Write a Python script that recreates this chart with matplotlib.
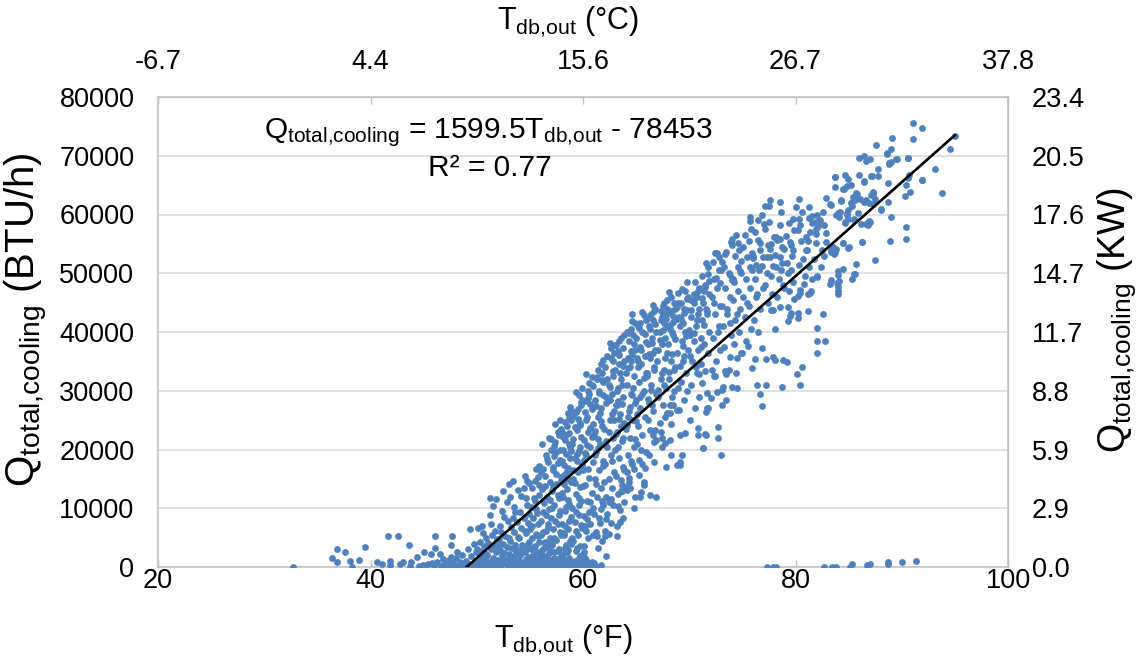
import numpy as np
import matplotlib
matplotlib.use("Agg")
import matplotlib.pyplot as plt
from matplotlib.ticker import FormatStrFormatter

plt.rcParams['font.family'] = ['Liberation Sans', 'DejaVu Sans']
plt.rcParams['mathtext.fontset'] = 'custom'
plt.rcParams['mathtext.rm'] = 'Liberation Sans'
plt.rcParams['mathtext.it'] = 'Liberation Sans:italic'
plt.rcParams['mathtext.bf'] = 'Liberation Sans:bold'
plt.rcParams['axes.unicode_minus'] = False

# ---- measured hourly data: (outdoor dry-bulb °F, total cooling load in kBTU/h) ----
tail_pts = [
    (32.7, 0.0), (36.4, 1.5), (36.8, 3.1), (36.8, 0.9), (37.6, 2.6), (38.1, 1.0), (38.3, 0.0),
    (38.9, 1.2), (39.5, 3.4), (40.6, 0.9), (41.1, 0.5), (41.6, 5.3), (42.6, 5.3), (41.8, 1.0),
    (41.8, 0.4), (42.8, 0.5), (43.1, 0.9), (43.6, 3.7), (43.8, 0.9), (43.7, 0.2), (44.4, 1.7),
    (44.6, 0.2), (45.0, 2.6), (45.4, 0.5), (45.7, 2.2), (46.1, 5.3), (46.1, 3.3), (46.5, 2.2),
    (46.8, 1.4), (47.7, 5.3), (47.6, 3.7), (47.6, 1.7), (48.1, 2.6), (44.9, 0.3), (45.2, 0.1),
    (45.8, 0.6), (46.0, 0.2), (46.3, 0.9), (46.6, 0.1), (46.9, 0.4), (47.1, 0.8), (47.2, 0.1),
    (47.4, 1.2), (47.5, 0.3), (47.8, 0.6), (47.9, 0.1), (48.0, 1.5), (48.3, 0.3), (48.4, 0.9),
    (48.6, 2.0), (48.7, 0.1), (48.8, 0.6), (49.0, 1.1), (49.1, 0.2), (49.2, 3.0), (49.3, 0.5),
    (49.4, 6.5), (49.5, 1.8), (49.6, 0.2), (49.7, 4.0), (49.8, 0.8), (49.9, 2.5), (50.0, 0.3),
]

rise_pts = [
    (50.1, 0.1), (50.3, 0.4), (50.6, 0.7), (50.2, 1.0), (50.8, 1.3), (50.4, 1.8), (50.9, 2.2),
    (50.5, 2.7), (50.0, 3.1), (50.7, 3.6), (50.3, 4.2), (50.9, 5.0), (50.6, 5.8), (50.1, 6.6),
    (50.5, 6.9), (50.8, 0.2), (50.4, 0.5), (50.2, 1.5),
    (51.1, 0.1), (51.4, 0.3), (51.7, 0.6), (51.2, 0.9), (51.9, 1.2), (51.5, 1.6), (51.0, 2.0),
    (51.8, 2.5), (51.3, 3.0), (51.6, 3.5), (51.1, 4.1), (51.9, 4.8), (51.4, 5.5), (51.7, 6.2),
    (51.3, 7.3), (51.2, 8.9), (51.5, 10.4), (51.8, 11.5), (51.2, 11.7), (51.6, 0.2), (51.0, 0.8),
    (51.9, 2.8),
    (52.0, 0.1), (52.3, 0.4), (52.7, 0.7), (52.1, 1.0), (52.9, 1.4), (52.4, 1.9), (52.6, 2.3),
    (52.2, 2.9), (52.8, 3.4), (52.5, 4.0), (52.1, 4.6), (52.7, 5.3), (52.3, 6.0), (52.2, 7.0),
    (52.9, 7.8), (52.6, 8.5), (52.4, 9.5), (52.8, 11.0), (52.5, 13.0), (52.9, 0.2), (52.2, 0.5),
    (52.6, 1.2), (52.0, 3.7),
    (53.1, 0.1), (53.5, 0.3), (53.8, 0.6), (53.2, 1.0), (53.9, 1.3), (53.4, 1.7), (53.0, 2.2),
    (53.7, 2.6), (53.3, 3.2), (53.6, 3.8), (53.1, 4.4), (53.9, 5.1), (53.5, 5.9), (53.2, 6.8),
    (53.8, 7.6), (53.4, 8.4), (53.6, 9.3), (53.5, 10.2), (53.1, 11.9), (53.9, 13.1), (53.0, 14.1),
    (53.4, 14.7), (53.7, 0.4), (53.3, 0.9), (53.8, 2.0), (53.0, 4.9),
    (54.0, 0.1), (54.4, 0.3), (54.8, 0.6), (54.2, 0.9), (54.6, 1.3), (54.9, 1.7), (54.1, 2.1),
    (54.5, 2.6), (54.7, 3.1), (54.3, 3.7), (54.9, 4.3), (54.0, 5.0), (54.6, 5.8), (54.2, 6.6),
    (54.8, 7.5), (54.4, 8.4), (54.1, 9.3), (54.7, 10.5), (54.6, 11.8), (54.4, 13.4), (54.7, 14.7),
    (54.9, 14.3), (54.5, 15.5), (54.3, 0.2), (54.7, 0.5), (54.9, 1.1), (54.2, 2.9), (54.8, 4.0),
    (54.5, 6.2), (54.9, 9.0), (54.2, 12.1),
    (55.0, 0.1), (55.4, 0.3), (55.8, 0.5), (55.2, 0.8), (55.6, 1.2), (55.9, 1.6), (55.3, 2.0),
    (55.7, 2.5), (55.1, 3.0), (55.5, 3.6), (55.9, 4.2), (55.2, 4.9), (55.6, 5.7), (55.0, 6.5),
    (55.8, 7.4), (55.3, 8.3), (55.7, 9.2), (55.1, 10.2), (55.5, 11.2), (55.9, 12.3), (55.2, 13.5),
    (55.5, 14.6), (55.8, 15.4), (55.6, 16.7), (55.9, 17.2), (55.3, 0.2), (55.7, 0.6), (55.1, 1.4),
    (55.9, 2.3), (55.4, 3.4), (55.8, 5.2), (55.2, 7.0), (55.6, 9.8), (55.4, 11.8), (55.9, 14.0),
    (56.0, 0.1), (56.5, 0.3), (56.9, 0.6), (56.2, 0.9), (56.7, 1.3), (56.3, 1.8), (56.8, 2.3),
    (56.1, 2.9), (56.6, 3.5), (56.4, 4.2), (56.9, 5.0), (56.2, 5.9), (56.7, 6.8), (56.0, 7.8),
    (56.5, 8.8), (56.8, 9.8), (56.3, 10.9), (56.6, 12.0), (56.1, 13.2), (56.9, 14.4), (56.4, 15.5),
    (56.2, 16.7), (56.7, 17.9), (56.5, 19.0), (57.0, 20.0), (56.1, 20.9), (56.8, 22.0), (56.3, 0.2),
    (56.8, 0.5), (56.6, 1.1), (56.1, 1.9), (56.9, 2.7), (56.4, 4.0), (56.0, 5.5), (56.7, 7.3),
    (56.2, 9.3), (56.9, 11.4), (56.4, 13.8), (56.0, 16.1), (56.6, 18.4),
    (57.0, 0.1), (57.4, 0.3), (57.8, 0.6), (57.2, 1.0), (57.6, 1.4), (57.9, 1.9), (57.3, 2.5),
    (57.7, 3.1), (57.1, 3.8), (57.5, 4.6), (57.9, 5.5), (57.2, 6.4), (57.6, 7.4), (57.0, 8.4),
    (57.8, 9.5), (57.3, 10.6), (57.7, 11.7), (57.1, 12.9), (57.5, 14.1), (57.9, 15.3), (57.2, 16.5),
    (57.6, 17.7), (57.3, 18.9), (57.8, 20.0), (57.4, 21.2), (57.7, 22.4), (57.9, 23.5), (57.4, 24.3),
    (57.8, 25.0), (57.5, 0.2), (57.1, 0.5), (57.9, 0.8), (57.3, 1.6), (57.6, 2.8), (57.0, 4.2),
    (57.8, 6.0), (57.4, 7.9), (57.1, 10.0), (57.6, 12.3), (57.9, 14.7), (57.2, 17.1), (57.5, 19.5),
    (57.0, 21.8),
]

core_pts = [
    (58.0, 0.1), (58.5, 0.3), (58.9, 0.7), (58.3, 1.1), (58.7, 1.6), (58.1, 2.2), (58.6, 2.9),
    (58.4, 3.7), (58.8, 4.5), (58.2, 5.4), (58.6, 6.4), (58.0, 7.4), (58.9, 8.5), (58.3, 9.6),
    (58.7, 10.8), (58.1, 12.0), (58.5, 13.2), (58.9, 14.4), (58.2, 15.6), (58.6, 16.8), (58.0, 18.0),
    (58.4, 19.2), (58.8, 20.4), (58.3, 21.6), (58.7, 22.8), (58.5, 24.0), (58.9, 25.1), (58.6, 26.2),
    (58.8, 27.3), (58.4, 0.2), (58.8, 0.5), (58.1, 1.3), (58.5, 2.5), (58.9, 4.0), (58.2, 5.8),
    (58.7, 7.9), (58.4, 10.2), (58.0, 12.6), (58.6, 15.0), (58.2, 17.4), (58.9, 19.8), (58.1, 22.2),
    (58.3, 24.6), (58.0, 23.0), (58.7, 20.9),
    (59.0, 0.1), (59.4, 0.3), (59.8, 0.6), (59.2, 1.0), (59.6, 1.5), (59.9, 2.1), (59.3, 2.8),
    (59.7, 3.6), (59.1, 4.5), (59.5, 5.5), (59.9, 6.6), (59.2, 7.7), (59.6, 8.9), (59.0, 10.1),
    (59.8, 11.3), (59.3, 12.5), (59.7, 13.7), (59.1, 14.9), (59.5, 16.1), (59.9, 17.3), (59.2, 18.5),
    (59.6, 19.7), (59.0, 20.9), (59.8, 22.1), (59.4, 23.3), (59.7, 24.5), (59.1, 25.7), (59.5, 26.9),
    (59.8, 28.1), (59.6, 29.3), (59.9, 30.4), (59.5, 0.2), (59.1, 0.8), (59.7, 1.8), (59.4, 3.2),
    (59.0, 5.0), (59.8, 7.1), (59.3, 9.4), (59.6, 11.8), (59.2, 14.3), (59.9, 16.8), (59.4, 19.3),
    (59.1, 21.8), (59.7, 24.1), (59.3, 26.3), (59.9, 28.5),
    (60.0, 0.1), (60.5, 0.4), (60.8, 0.9), (60.2, 1.5), (60.0, 2.0), (60.1, 2.6), (60.1, 3.6),
    (60.5, 4.9), (60.3, 6.1), (60.7, 7.4), (60.1, 8.7), (60.9, 10.0), (60.4, 11.3), (60.8, 12.6),
    (60.2, 13.9), (60.6, 15.2), (60.0, 16.5), (60.9, 17.8), (60.3, 19.1), (60.7, 20.4), (60.1, 21.7),
    (60.5, 23.0), (60.9, 24.3), (60.4, 25.6), (60.8, 26.9), (60.2, 28.2), (60.6, 29.5), (60.9, 30.8),
    (60.6, 31.4), (60.8, 32.3), (60.6, 0.2), (60.3, 1.2), (60.9, 5.5), (60.4, 8.2), (60.7, 11.0),
    (60.0, 13.8), (60.5, 16.6), (60.2, 19.4), (60.8, 22.2), (60.3, 25.0), (60.7, 27.7), (60.5, 30.0),
    (61.3, 0.0), (61.7, 0.3), (61.0, 0.6), (61.4, 3.2), (61.8, 4.5), (61.2, 6.0), (61.6, 7.5),
    (61.0, 9.0), (61.9, 10.5), (61.3, 12.0), (61.7, 13.5), (61.1, 15.0), (61.5, 16.5), (61.9, 18.0),
    (61.2, 19.5), (61.6, 21.0), (61.0, 22.5), (61.8, 24.0), (61.4, 25.5), (61.7, 27.0), (61.1, 28.5),
    (61.5, 30.0), (61.9, 31.5), (61.3, 32.4), (61.8, 33.0), (61.7, 34.6), (61.5, 8.3), (61.8, 11.2),
    (61.2, 14.2), (61.9, 17.2), (61.4, 20.2), (61.1, 23.2), (61.6, 26.2), (61.9, 29.2), (61.3, 32.0),
    (62.2, 1.9), (62.1, 5.2), (62.4, 5.7), (62.1, 6.2), (62.6, 7.5), (62.3, 9.0), (62.8, 10.5),
    (62.2, 12.0), (62.7, 13.5), (62.4, 15.0), (62.9, 16.2), (62.1, 17.5), (62.6, 19.0), (62.3, 20.5),
    (62.8, 22.0), (62.0, 23.5), (62.5, 25.0), (62.9, 26.5), (62.2, 28.0), (62.7, 29.5), (62.4, 31.0),
    (62.8, 32.5), (62.1, 34.0), (62.6, 35.5), (62.9, 36.5), (63.0, 37.8), (62.5, 38.1), (62.4, 11.0),
    (62.0, 14.5), (62.7, 18.0), (62.2, 21.5), (62.9, 25.0), (62.5, 28.5), (62.3, 32.0), (62.8, 35.0),
    (63.2, 5.2), (63.2, 6.9), (63.5, 7.6), (63.8, 8.3), (63.5, 9.7), (63.9, 11.0), (63.3, 12.5),
    (63.7, 14.0), (63.6, 14.8), (63.1, 15.5), (63.8, 17.0), (63.4, 18.5), (63.0, 20.0), (63.7, 21.5),
    (63.2, 23.0), (63.9, 24.5), (63.5, 26.0), (63.1, 27.5), (63.8, 29.0), (63.3, 30.5), (63.6, 32.0),
    (63.0, 33.5), (63.9, 35.0), (63.4, 36.1), (63.8, 37.2), (63.4, 38.5), (63.9, 39.5), (63.6, 13.0),
    (63.9, 16.5), (63.3, 20.5), (63.6, 24.0), (63.2, 27.5), (63.7, 31.0), (63.4, 34.5), (63.1, 37.8),
    (63.8, 22.0), (63.3, 28.2),
    (64.8, 10.0), (64.9, 12.0), (64.1, 13.1), (64.4, 13.4), (64.0, 13.6), (64.3, 15.1), (64.1, 16.2),
    (64.6, 17.5), (64.2, 19.0), (64.8, 20.5), (64.4, 22.0), (64.0, 23.5), (64.7, 25.0), (64.3, 26.5),
    (64.9, 28.0), (64.5, 29.5), (64.1, 31.0), (64.8, 32.5), (64.4, 34.0), (64.2, 35.5), (64.6, 36.1),
    (64.9, 37.0), (64.3, 38.5), (64.7, 39.5), (64.5, 40.5), (64.9, 41.5), (64.6, 43.0), (64.5, 18.0),
    (64.9, 21.8), (64.2, 25.5), (64.6, 29.2), (64.0, 33.0), (64.5, 36.8), (64.1, 40.0),
    (65.4, 12.0), (65.5, 12.8), (65.7, 14.0), (65.7, 14.5), (65.8, 16.8), (65.3, 18.2), (65.9, 19.5),
    (65.1, 21.0), (65.6, 22.5), (65.2, 24.0), (65.8, 25.5), (65.4, 27.0), (65.0, 28.5), (65.7, 30.0),
    (65.3, 31.5), (65.9, 33.0), (65.5, 34.5), (65.1, 35.5), (65.8, 36.0), (65.4, 37.5), (65.0, 39.0),
    (65.6, 40.0), (65.2, 41.0), (65.9, 42.0), (65.7, 42.9), (65.5, 20.0), (65.0, 24.8), (65.6, 29.5),
    (65.2, 34.0), (65.9, 38.3), (65.4, 41.5),
]

# additional hours filling the dense part of the cloud
core_extra_pts = [
    (57.2, 13.6), (57.5, 15.8), (57.8, 18.2), (57.3, 20.6), (57.6, 23.0),
    (58.2, 14.1), (58.5, 16.3), (58.8, 18.6), (58.1, 20.0), (58.4, 22.5), (58.7, 25.6), (58.9, 26.8),
    (59.1, 16.5), (59.4, 18.0), (59.7, 20.5), (59.2, 23.8), (59.5, 25.2), (59.8, 27.5), (59.3, 29.8),
    (60.1, 18.2), (60.4, 20.8), (60.7, 23.6), (60.2, 26.4), (60.5, 28.8), (60.8, 31.0), (60.3, 32.8),
    (61.1, 19.0), (61.4, 21.8), (61.7, 24.8), (61.2, 27.4), (61.5, 29.6), (61.8, 31.8), (61.4, 33.6),
    (61.9, 35.2),
    (62.1, 20.8), (62.4, 23.0), (62.7, 26.0), (62.2, 29.0), (62.5, 30.6), (62.8, 33.4), (62.3, 36.0),
    (62.6, 37.2),
    (63.1, 22.6), (63.4, 25.2), (63.7, 27.8), (63.2, 30.0), (63.5, 33.0), (63.8, 34.2), (63.3, 36.8),
    (63.6, 39.0),
    (64.1, 24.2), (64.4, 27.2), (64.7, 30.4), (64.2, 33.8), (64.5, 35.0), (64.8, 38.0), (64.3, 39.8),
    (64.6, 41.8),
    (65.1, 26.0), (65.4, 29.0), (65.7, 32.2), (65.2, 35.0), (65.5, 37.0), (65.8, 39.6), (65.3, 40.6),
    (65.6, 43.4),
    (66.1, 28.6), (66.4, 30.2), (66.7, 33.6), (66.2, 36.2), (66.5, 38.2), (66.8, 41.4), (66.3, 42.6),
    (66.6, 44.6),
    (67.1, 30.2), (67.4, 33.0), (67.7, 35.6), (67.2, 38.6), (67.5, 40.4), (67.8, 42.2), (67.3, 43.6),
    (67.6, 45.0),
    (68.1, 33.2), (68.4, 36.2), (68.7, 38.8), (68.2, 41.2), (68.5, 42.8), (68.8, 44.2), (68.3, 46.0),
    (69.1, 34.2), (69.4, 37.6), (69.7, 39.4), (69.2, 42.2), (69.5, 43.2), (69.8, 45.6), (69.3, 47.4),
    (70.1, 36.0), (70.4, 39.8), (70.7, 42.0), (70.2, 43.8), (70.5, 45.8), (70.8, 47.0),
    (71.1, 39.0), (71.4, 41.2), (71.7, 43.0), (71.2, 45.8), (71.5, 47.6), (71.8, 49.8),
    (50.3, 0.9), (50.7, 0.3), (51.3, 0.5), (51.8, 0.1), (52.4, 0.8), (52.8, 0.3), (53.2, 0.5),
    (53.6, 1.2), (54.1, 0.4), (54.6, 0.8), (55.0, 1.0), (55.5, 0.4), (56.0, 0.7), (56.4, 0.4),
    (57.1, 1.2), (57.7, 0.4), (58.2, 0.8), (58.6, 0.5), (59.2, 0.4), (59.8, 1.2), (60.3, 0.6),
    (60.9, 0.3), (53.9, 2.9), (56.3, 3.2), (58.3, 3.3),
    (56.5, 6.2), (57.3, 5.0), (57.7, 8.8), (58.3, 6.9), (58.6, 11.4), (59.3, 6.1), (59.6, 10.6),
    (60.2, 7.0), (60.6, 9.4), (61.3, 5.2), (61.7, 9.8), (62.2, 8.1), (62.6, 11.6), (63.3, 10.3),
    (63.7, 12.9), (64.3, 14.5), (64.8, 16.6), (65.3, 15.6), (65.6, 17.6), (66.2, 19.0), (66.6, 22.4),
    (67.3, 23.0), (67.7, 25.6), (68.3, 24.4), (68.6, 30.0),
]

mid_pts = [
    (66.3, 12.3), (66.9, 12.0), (66.7, 17.8), (66.7, 21.3), (66.9, 21.6), (66.8, 23.3), (66.3, 23.3),
    (66.1, 25.0), (66.6, 26.5), (66.2, 28.0), (66.9, 29.5), (66.4, 31.0), (66.0, 32.5), (66.7, 34.0),
    (66.3, 35.5), (66.8, 37.0), (66.1, 38.0), (66.5, 39.0), (66.9, 40.0), (66.2, 41.0), (66.6, 42.0),
    (66.4, 43.0), (66.8, 44.0), (66.5, 27.5), (66.0, 33.0), (66.6, 36.5), (66.3, 40.5), (66.7, 43.5),
    (67.8, 17.0), (67.4, 20.5), (67.7, 21.1), (67.4, 21.9), (67.2, 24.5), (67.9, 26.2), (67.5, 27.5),
    (67.1, 29.0), (67.8, 30.5), (67.3, 32.0), (67.6, 33.5), (67.0, 35.0), (67.9, 36.5), (67.4, 38.0),
    (67.7, 39.0), (67.2, 40.0), (67.9, 41.0), (67.6, 41.5), (67.3, 42.0), (67.8, 43.0), (67.9, 43.9),
    (67.5, 44.5), (67.9, 45.5), (67.6, 31.0), (67.1, 37.0), (67.4, 42.5),
    (68.3, 19.1), (68.2, 21.6), (68.8, 17.4), (68.2, 26.2), (68.2, 27.6), (68.5, 27.6), (68.8, 26.7),
    (68.4, 29.0), (68.9, 30.5), (68.1, 32.0), (68.6, 33.5), (68.3, 35.0), (68.8, 36.5), (68.0, 38.0),
    (68.5, 39.5), (68.2, 40.5), (68.5, 41.7), (68.8, 42.2), (68.0, 43.3), (68.3, 43.5), (68.6, 45.0),
    (68.9, 45.0), (68.9, 46.6), (68.1, 46.8), (68.7, 34.0), (68.4, 40.0), (68.7, 44.0),
    (69.1, 17.4), (69.1, 17.9), (69.3, 19.1), (69.1, 22.4), (69.6, 22.8), (69.0, 26.8), (69.5, 28.5),
    (69.8, 30.0), (69.2, 31.5), (69.7, 33.0), (69.4, 35.0), (69.9, 37.0), (69.3, 38.5), (69.6, 40.0),
    (69.1, 41.0), (69.4, 41.6), (69.8, 43.7), (69.5, 44.0), (69.2, 45.0), (69.9, 46.0), (69.6, 47.0),
    (69.8, 48.5), (69.5, 36.0), (69.0, 42.5),
    (70.8, 22.5), (70.8, 23.6), (70.1, 25.0), (70.5, 27.0), (70.9, 29.0), (70.2, 31.0), (70.7, 33.0),
    (70.3, 35.0), (70.8, 37.0), (70.4, 38.5), (70.0, 40.4), (70.6, 41.0), (70.2, 42.5), (70.9, 44.0),
    (70.4, 44.9), (70.2, 45.4), (70.7, 46.0), (70.4, 46.5), (70.9, 47.5), (70.5, 48.5), (70.6, 34.0),
    (70.1, 39.5), (70.8, 43.0),
    (71.3, 20.2), (71.3, 20.3), (71.6, 22.5), (71.5, 22.6), (71.6, 26.4), (71.7, 27.0), (71.8, 27.0),
    (71.7, 29.6), (71.2, 31.4), (70.9, 32.9), (71.5, 33.4), (71.1, 34.5), (71.8, 36.5), (71.4, 38.0),
    (71.9, 40.0), (71.2, 42.0), (71.7, 43.5), (71.3, 45.0), (71.9, 46.5), (71.5, 48.0), (71.9, 48.6),
    (71.2, 49.5), (71.8, 51.0), (71.6, 51.8), (71.1, 37.5), (71.6, 44.0), (71.4, 47.0),
    (73.0, 19.1), (72.7, 21.9), (72.7, 23.8), (72.0, 28.7), (72.6, 29.8), (73.1, 30.1), (72.3, 32.5),
    (72.4, 32.5), (72.1, 33.6), (72.5, 35.0), (72.9, 37.0), (72.2, 39.0), (72.8, 41.0), (72.4, 43.0),
    (72.9, 44.5), (72.1, 46.0), (72.6, 47.5), (72.9, 48.3), (72.3, 49.1), (72.5, 49.2), (72.8, 50.5),
    (72.2, 52.0), (72.8, 52.8), (72.4, 53.4), (72.6, 53.5), (72.3, 45.0), (72.7, 40.0),
    (73.1, 27.5), (73.2, 30.7), (73.5, 32.9), (73.4, 33.4), (73.7, 33.5), (73.8, 35.8), (73.3, 37.5),
    (73.9, 39.5), (73.2, 41.0), (73.6, 43.0), (73.1, 44.5), (73.8, 46.0), (73.4, 47.5), (74.0, 48.9),
    (73.8, 49.7), (73.7, 50.1), (73.3, 51.0), (73.1, 52.0), (73.4, 53.3), (73.5, 53.7), (73.9, 55.4),
    (74.0, 55.9), (73.6, 44.0), (73.0, 50.5), (73.8, 41.5), (73.5, 28.5),
    (74.5, 30.4), (74.0, 30.7), (74.4, 33.0), (74.5, 35.5), (74.9, 36.4), (74.2, 38.0), (74.7, 40.0),
    (74.3, 42.0), (74.8, 44.0), (74.1, 45.5), (74.6, 47.0), (74.2, 48.5), (74.9, 50.0), (74.8, 50.3),
    (74.6, 51.1), (74.9, 52.1), (74.3, 53.0), (74.7, 54.0), (74.0, 54.8), (74.6, 55.1), (74.4, 56.5),
    (74.5, 43.0), (74.1, 49.0),
    (75.9, 33.9), (75.0, 36.5), (75.5, 37.7), (75.3, 38.5), (75.8, 40.5), (75.2, 42.5), (75.6, 44.5),
    (75.1, 46.0), (75.7, 47.5), (75.3, 49.0), (75.9, 50.5), (75.7, 51.1), (76.0, 52.6), (75.4, 52.8),
    (75.1, 54.5), (75.6, 55.5), (75.2, 56.5), (75.8, 57.5), (75.7, 58.9), (75.7, 59.6), (75.4, 45.0),
    (75.9, 53.5),
]

upper_pts = [
    (76.8, 27.4), (76.7, 29.4), (76.4, 30.9), (76.8, 37.3), (76.2, 35.4), (76.5, 40.0), (76.1, 42.0),
    (76.7, 44.0), (76.3, 46.0), (76.9, 47.5), (76.2, 49.0), (76.6, 50.5), (76.8, 51.2), (76.3, 51.4),
    (76.9, 52.8), (76.7, 54.0), (76.7, 55.1), (76.5, 55.7), (76.2, 57.0), (77.0, 58.4), (76.5, 59.1),
    (76.8, 60.0), (76.4, 46.5), (76.0, 53.0),
    (77.2, 30.9), (77.2, 35.4), (77.9, 35.8), (77.9, 43.7), (77.7, 43.7), (77.4, 45.0), (77.8, 46.5),
    (77.1, 48.0), (77.7, 49.6), (77.9, 51.2), (77.3, 52.8), (77.6, 52.8), (77.6, 54.2), (77.4, 54.8),
    (77.7, 55.0), (78.0, 56.2), (77.1, 57.6), (77.5, 58.8), (77.5, 61.5), (77.1, 61.5), (77.6, 62.5),
    (77.3, 50.0),
    (78.7, 30.7), (78.1, 35.2), (78.8, 35.2), (78.1, 40.5), (78.5, 44.3), (78.3, 46.0), (78.9, 47.5),
    (78.4, 49.0), (78.6, 50.5), (78.2, 51.1), (78.7, 51.7), (78.5, 52.8), (78.1, 53.1), (78.9, 54.1),
    (78.7, 54.5), (78.3, 55.7), (78.5, 55.9), (78.2, 56.2), (78.5, 58.2), (78.6, 60.5), (78.5, 62.1),
    (78.8, 48.0),
    (79.2, 34.9), (79.3, 41.9), (79.5, 42.7), (79.6, 43.2), (79.3, 44.2), (79.9, 45.7), (79.4, 47.0),
    (79.8, 48.5), (79.3, 50.0), (79.2, 51.7), (79.7, 53.0), (79.8, 54.0), (79.6, 54.8), (79.5, 55.4),
    (79.1, 56.3), (79.9, 57.4), (79.4, 58.5), (79.8, 59.2), (80.0, 61.3), (80.3, 62.7), (79.6, 50.5),
    (80.4, 30.9), (80.1, 32.9), (80.6, 34.1), (80.2, 43.2), (80.2, 42.3), (80.2, 46.2), (80.4, 46.6),
    (80.4, 47.1), (80.8, 48.2), (80.3, 51.4), (80.7, 52.5), (81.0, 54.0), (80.5, 55.5), (81.0, 56.2),
    (80.2, 57.4), (80.4, 58.2), (80.3, 59.2), (81.3, 61.3), (80.6, 60.5), (80.9, 49.5),
    (81.2, 43.6), (81.2, 46.5), (81.4, 46.6), (81.5, 46.9), (81.6, 49.0), (81.3, 51.0), (81.7, 52.5),
    (81.1, 54.0), (81.9, 55.1), (81.2, 55.5), (81.9, 56.7), (81.9, 57.5), (81.6, 58.5), (81.9, 58.8),
    (81.3, 59.4), (81.6, 59.8), (81.4, 57.0),
    (82.0, 36.5), (82.0, 38.5), (82.8, 38.5), (82.0, 40.7), (82.6, 43.1), (82.0, 49.4), (82.0, 49.6),
    (82.4, 51.0), (82.7, 53.0), (82.9, 55.4), (82.9, 56.8), (82.1, 58.0), (82.7, 58.2), (82.3, 59.1),
    (82.0, 59.9), (82.6, 60.5), (82.9, 62.8), (82.5, 54.0),
    (84.0, 47.7), (83.2, 48.2), (83.9, 48.4), (83.3, 48.9), (84.0, 49.7), (84.0, 50.3), (83.6, 53.3),
    (83.3, 53.6), (83.7, 53.7), (83.3, 54.0), (83.8, 54.1), (83.5, 54.5), (83.8, 59.9), (84.0, 60.2),
    (83.3, 61.7), (83.2, 61.8), (83.7, 64.6), (83.7, 66.3), (83.7, 66.4),
    (84.0, 46.5), (84.1, 48.7), (84.0, 47.0), (84.5, 50.8), (84.9, 54.3), (84.5, 55.1), (84.5, 55.2),
    (84.7, 58.5), (84.7, 58.8), (84.9, 59.2), (84.1, 59.6), (84.8, 60.0), (84.8, 60.2), (84.2, 60.4),
    (84.9, 60.8), (84.3, 62.3), (84.3, 62.4), (84.6, 64.3), (84.5, 64.4), (84.8, 64.9), (84.9, 66.0),
    (84.7, 66.8), (85.0, 54.5),
    (85.3, 49.0), (85.6, 49.8), (85.5, 49.9), (85.7, 51.5), (85.5, 59.0), (85.5, 59.2), (85.3, 61.4),
    (85.2, 61.9), (85.3, 62.1), (85.6, 62.5), (85.4, 63.0), (85.8, 63.5), (85.7, 63.6), (85.2, 65.0),
    (86.0, 66.7), (85.9, 60.2),
    (86.3, 55.3), (86.3, 55.4), (86.2, 58.3), (86.6, 58.4), (86.8, 58.2), (87.0, 58.8), (86.9, 58.9),
    (86.9, 61.9), (86.4, 62.2), (86.6, 62.5), (86.1, 62.6), (86.4, 65.5), (86.4, 65.7), (87.1, 66.6),
    (86.6, 69.1), (86.0, 69.7), (87.0, 69.5), (86.4, 70.0),
    (87.5, 52.2), (86.8, 58.8), (88.0, 60.8), (88.0, 60.9), (87.3, 61.8), (87.5, 62.6), (87.1, 63.3),
    (87.3, 63.5), (87.3, 63.8), (87.2, 66.5), (87.8, 66.6), (87.8, 67.7), (87.6, 71.8),
    (88.9, 55.5), (89.0, 59.6), (88.7, 62.1), (88.7, 65.4), (88.8, 68.6), (88.8, 68.8), (88.6, 70.3),
    (88.6, 70.4), (89.0, 71.1), (89.1, 73.1),
    (90.4, 55.9), (90.4, 57.9), (90.3, 63.1), (90.4, 65.0), (89.0, 69.0), (89.5, 69.4), (89.6, 69.4),
    (90.8, 63.8), (90.6, 66.2), (90.7, 66.7), (90.6, 69.6), (90.6, 69.7),
    (91.9, 65.8), (91.9, 65.9), (91.1, 72.9), (91.9, 74.7), (91.1, 75.5),
    (93.1, 67.8), (93.8, 63.6), (94.5, 71.1), (95.0, 73.4),
]

zero_pts = [
    (77.3, 0.0), (77.9, 0.0), (78.2, 0.0), (82.7, 0.0), (83.4, 0.0), (83.8, 0.0), (85.1, 0.0),
    (85.3, 0.5), (86.7, 0.4), (87.0, 0.5), (88.7, 0.5), (88.7, 0.8), (90.0, 0.9), (91.3, 1.1),
]

# linear fit reported on the chart
fit_slope = 1599.5
fit_intercept = -78453
fit_r2 = 0.77

x_ticks_f = [20, 40, 60, 80, 100]
y_ticks_btu = [0, 10000, 20000, 30000, 40000, 50000, 60000, 70000, 80000]

BTUH_TO_KW = 0.00029307107

pts = np.array(tail_pts + rise_pts + core_pts + core_extra_pts + mid_pts + upper_pts + zero_pts)
t_f = pts[:, 0]
q_btu = pts[:, 1] * 1000.0

fig = plt.figure(figsize=(11.45, 6.66), dpi=100)
W, H = 1145, 666
ax = fig.add_axes([158 / W, 1 - 567 / H, (1008 - 158) / W, (567 - 97) / H])

frame_col = '#BFBFBF'
grid_col = '#D9D9D9'
dot_col = '#4F81BD'
fs = 19.5

ax.scatter(t_f, q_btu, s=24, color=dot_col, linewidths=0, zorder=3)

x_fit = np.array([-fit_intercept / fit_slope, t_f.max()])
ax.plot(x_fit, fit_slope * x_fit + fit_intercept, color='black', lw=1.9, zorder=4)

ax.set_xlim(20, 100)
ax.set_ylim(0, 80000)
ax.set_xticks(x_ticks_f)
ax.set_yticks(y_ticks_btu)
ax.yaxis.grid(True, color=grid_col, lw=1.1, zorder=0)
ax.set_axisbelow(True)
for sp in ax.spines.values():
    sp.set_color(frame_col)
    sp.set_linewidth(1.1)
ax.tick_params(axis='x', direction='in', length=5, width=1, color=frame_col,
               labelsize=fs, pad=1)
ax.tick_params(axis='y', length=0, labelsize=fs, pad=17)

# Celsius scale on top
secx = ax.secondary_xaxis('top', functions=(lambda f: (f - 32) * 5 / 9,
                                            lambda c: c * 9 / 5 + 32))
secx.set_xticks([(f - 32) * 5 / 9 for f in x_ticks_f])
secx.xaxis.set_major_formatter(FormatStrFormatter('%.1f'))
secx.tick_params(direction='in', length=5, width=1, color=frame_col, labelsize=fs, pad=16)
secx.spines['top'].set_color(frame_col)

# kW scale on the right
secy = ax.secondary_yaxis('right', functions=(lambda b: b * BTUH_TO_KW,
                                              lambda k: k / BTUH_TO_KW))
secy.set_yticks([b * BTUH_TO_KW for b in y_ticks_btu])
secy.yaxis.set_major_formatter(FormatStrFormatter('%.1f'))
secy.tick_params(length=0, labelsize=fs, pad=17)
secy.spines['right'].set_color(frame_col)

lab_fs = 22
fig.text(563 / W, 1 - 640 / H, r'$\mathregular{T_{db{,}out}}$ (°F)', ha='center', va='center', fontsize=lab_fs)
fig.text(568 / W, 1 - 22 / H, r'$\mathregular{T_{db{,}out}}$ (°C)', ha='center', va='center', fontsize=lab_fs)
fig.text(27 / W, 1 - 320 / H, r'$\mathregular{Q_{total{,}cooling}}$ (BTU/h)', ha='center', va='center',
         rotation=90, fontsize=29)
fig.text(1117 / W, 1 - 320 / H, r'$\mathregular{Q_{total{,}cooling}}$ (KW)', ha='center', va='center',
         rotation=90, fontsize=27)

eq_fs = 21.5
eq = (r'$\mathregular{Q_{total{,}cooling}}$ = ' + f'{fit_slope:g}' + r'$\mathregular{T_{db{,}out}}$'
      + f' - {abs(fit_intercept):d}')
fig.text(488 / W, 1 - 133 / H, eq, ha='center', va='center', fontsize=eq_fs)
fig.text(490 / W, 1 - 168 / H, f'R² = {fit_r2:.2f}', ha='center', va='center', fontsize=eq_fs)

fig.savefig('out.png', dpi=100)
